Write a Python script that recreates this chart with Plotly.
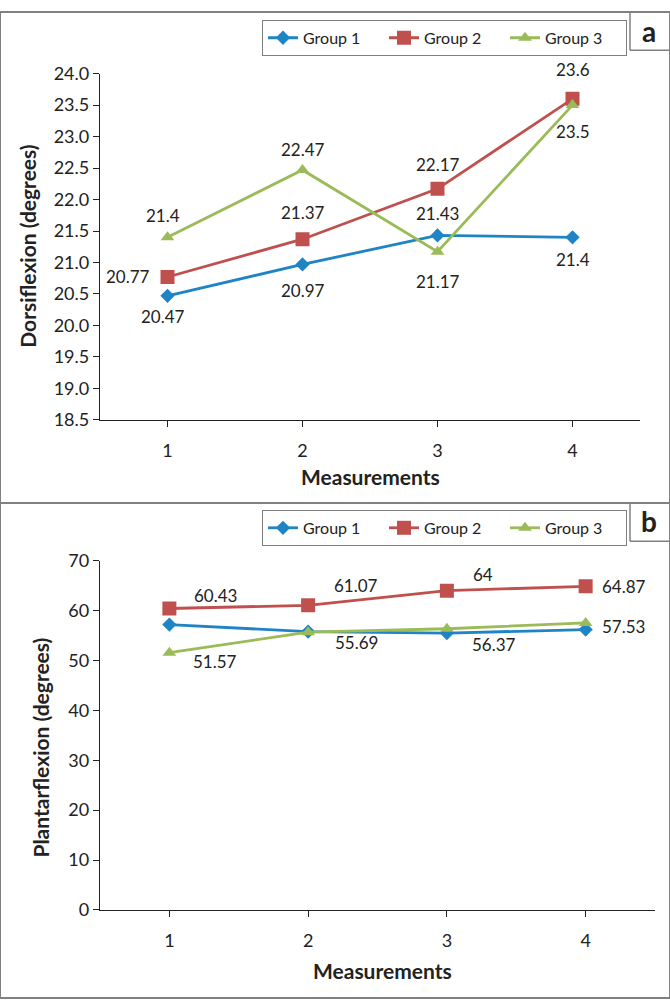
import plotly.graph_objects as go
from plotly.subplots import make_subplots

measurements = [1, 2, 3, 4]
group_names = ['Group 1', 'Group 2', 'Group 3']

# panel a - dorsiflexion
dorsi_g1 = [20.47, 20.97, 21.43, 21.4]
dorsi_g2 = [20.77, 21.37, 22.17, 23.6]
dorsi_g3 = [21.4, 22.47, 21.17, 23.5]

# panel b - plantarflexion (group 1 has no labels in the original)
plantar_g1 = [57.2, 55.8, 55.5, 56.2]
plantar_g2 = [60.43, 61.07, 64, 64.87]
plantar_g3 = [51.57, 55.69, 56.37, 57.53]

colors = ['#1f84c6', '#c0504d', '#9bbb59']
symbols = ['diamond', 'square', 'triangle-up']
msizes = [11, 14, 12]
FONT = 'Lato'

W, H = 670, 1008
def px(x):
    return x / W
def py(y):
    return 1 - y / H

fig = make_subplots(rows=2, cols=1)

panel_a = [dorsi_g1, dorsi_g2, dorsi_g3]
panel_b = [plantar_g1, plantar_g2, plantar_g3]

for i, vals in enumerate(panel_a):
    fig.add_trace(go.Scatter(x=measurements, y=vals, name=group_names[i], mode='lines+markers',
                             line=dict(color=colors[i], width=2.8),
                             marker=dict(symbol=symbols[i], size=msizes[i], color=colors[i]),
                             legend='legend'), row=1, col=1)
for i, vals in enumerate(panel_b):
    fig.add_trace(go.Scatter(x=measurements, y=vals, name=group_names[i], mode='lines+markers',
                             line=dict(color=colors[i], width=2.8),
                             marker=dict(symbol=symbols[i], size=msizes[i], color=colors[i]),
                             legend='legend2'), row=2, col=1)

# label offsets (xshift, yshift) per point
offs_a = [
    [(-5, -21), (0, -26), (0, 22), (0, -22)],
    [(-40, 0), (0, 27), (0, 24), (0, 29)],
    [(-5, 22), (0, 20), (0, -30), (0, -26)],
]
offs_b = {
    1: [(46, 13), (48, 20), (36, 16), (38, 0)],
    2: [(46, -9), (48, -10), (47, -16), (38, -4)],
}

annots = []
for g, vals in enumerate(panel_a):
    for j, v in enumerate(vals):
        dx, dy = offs_a[g][j]
        annots.append(dict(x=measurements[j], y=v, xref='x', yref='y', text='{:g}'.format(v),
                           showarrow=False, xshift=dx, yshift=dy,
                           font=dict(family=FONT, size=17, color='#222222')))
for g, offs in offs_b.items():
    for j, v in enumerate(panel_b[g]):
        dx, dy = offs[j]
        annots.append(dict(x=measurements[j], y=v, xref='x2', yref='y2', text='{:g}'.format(v),
                           showarrow=False, xshift=dx, yshift=dy,
                           font=dict(family=FONT, size=17, color='#222222')))

# axis titles and panel letters
title_font = dict(family=FONT, size=21, color='#222222')
letter_font = dict(family=FONT, size=28, color='#222222')
paper_text = [
    (370, 475, '<b>Measurements</b>', 0, title_font),
    (382, 980, '<b>Measurements</b>', 0, title_font),
    (28, 240, '<b>Dorsiflexion (degrees)</b>', -90, title_font),
    (41, 752, '<b>Plantarflexion (degrees)</b>', -90, title_font),
    (649, 19, '<b>a</b>', 0, letter_font),
    (649, 520, '<b>b</b>', 0, letter_font),
]
for x, y, t, ang, f in paper_text:
    annots.append(dict(x=px(x), y=py(y), xref='paper', yref='paper', xanchor='center', yanchor='middle',
                       text=t, textangle=ang, showarrow=False, font=f))

frame = '#808080'
shapes = [
    dict(type='rect', xref='paper', yref='paper', x0=0, y0=0, x1=1, y1=1, line=dict(color=frame, width=2)),
    dict(type='line', xref='paper', yref='paper', x0=0, x1=1, y0=py(502), y1=py(502), line=dict(color=frame, width=2)),
    dict(type='line', xref='paper', yref='paper', x0=px(630), x1=px(630), y0=py(0), y1=py(39), line=dict(color=frame, width=1.5)),
    dict(type='line', xref='paper', yref='paper', x0=px(630), x1=1, y0=py(39), y1=py(39), line=dict(color=frame, width=1.5)),
    dict(type='line', xref='paper', yref='paper', x0=px(630), x1=px(630), y0=py(502), y1=py(541), line=dict(color=frame, width=1.5)),
    dict(type='line', xref='paper', yref='paper', x0=px(630), x1=1, y0=py(541), y1=py(541), line=dict(color=frame, width=1.5)),
]

axis_common = dict(showgrid=False, zeroline=False, showline=True, linecolor='#222222', linewidth=1.3,
                   ticks='outside', ticklen=6, tickcolor='#222222',
                   tickfont=dict(family=FONT, size=18, color='#222222'))

fig.update_xaxes(axis_common, tickvals=measurements, range=[0.5, 4.5], ticklabelstandoff=8)
fig.update_yaxes(axis_common)
fig.update_xaxes(domain=[px(100), px(640)], row=1, col=1)
fig.update_xaxes(domain=[px(100), px(655)], row=2, col=1)
fig.update_yaxes(domain=[py(417), py(63)], range=[18.5, 24.0], dtick=0.5, tickformat='.1f', row=1, col=1)
fig.update_yaxes(domain=[py(918), py(561)], range=[0, 70], dtick=10, row=2, col=1)

legend_style = dict(orientation='h', xanchor='left', yanchor='top', bordercolor=frame, borderwidth=1,
                    bgcolor='white', entrywidth=76, entrywidthmode='pixels',
                    font=dict(family=FONT, size=16, color='#222222'))
fig.update_layout(
    width=W, height=H,
    margin=dict(l=0, r=0, t=0, b=0),
    plot_bgcolor='white', paper_bgcolor='white',
    font=dict(family=FONT),
    legend=dict(legend_style, x=px(262), y=py(8)),
    legend2=dict(legend_style, x=px(262), y=py(509)),
    annotations=annots,
    shapes=shapes,
)

fig.write_html('out.html', config={'displayModeBar': False},
               post_script="document.body.style.margin='0';")
